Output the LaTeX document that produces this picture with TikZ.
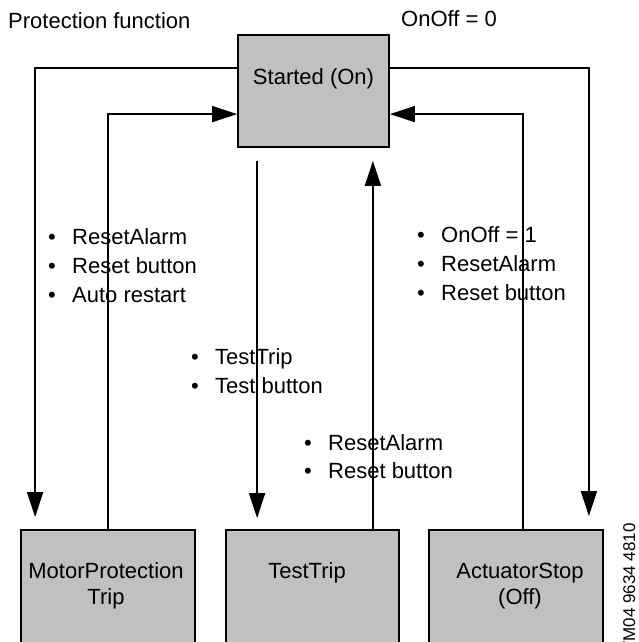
\documentclass[tikz,border=0pt]{standalone}
\usepackage{fontspec}
\setmainfont{Liberation Sans}
\usetikzlibrary{arrows.meta}
\definecolor{statefill}{RGB}{192,192,192}
% bullet followed by its text, bullet in a fixed-width box
\newcommand\mybul[1]{\makebox[24pt][l]{\textbullet}#1}
\begin{document}
\begin{tikzpicture}[x=1pt,y=-1pt,
  state/.style={draw=black,line width=1.8pt,fill=statefill,rectangle,inner sep=0pt},
  flow/.style={line width=1.8pt,-{Triangle[length=25pt,width=16pt]}},
  txt/.style={inner sep=0pt,font=\fontsize{22}{26}\selectfont},
  code/.style={inner sep=0pt,font=\fontsize{17}{20}\selectfont},
]
\useasboundingbox (0,0) rectangle (639,642);
\clip (0,0) rectangle (639,642);

% states
\node[state,minimum width=151pt,minimum height=112pt] (started) at (313.5,91) {};
\node[state,minimum width=174pt,minimum height=140pt] (motor) at (108,600) {};
\node[state,minimum width=173pt,minimum height=140pt] (test) at (312.5,600) {};
\node[state,minimum width=174pt,minimum height=140pt] (actuator) at (516,600) {};

% state names
\node[txt,anchor=base] (startedtxt) at (313.5,84) {Started (On)};
\node[txt,anchor=base] (motortxt) at (106,578) {MotorProtection};
\node[txt,anchor=base] (motortxtb) at (106,604) {Trip};
\node[txt,anchor=base] (testtxt) at (307,578) {TestTrip};
\node[txt,anchor=base] (actuatortxt) at (520,578) {ActuatorStop};
\node[txt,anchor=base] (actuatortxtb) at (520,604) {(Off)};

% connector end points on the state borders
\coordinate (sw1) at ([yshift=-34pt]started.north west);
\coordinate (sw2) at ([yshift=-80pt]started.north west);
\coordinate (se1) at ([yshift=-34pt]started.north east);
\coordinate (se2) at ([yshift=-80pt]started.north east);
\coordinate (sdown) at ([xshift=20pt]started.south west);
\coordinate (sup) at ([xshift=-17pt]started.south east);
\coordinate (mdown) at ([xshift=15pt]motor.north west);
\coordinate (adown) at ([xshift=-15pt]actuator.north east);
\coordinate (aup) at ([xshift=7pt]actuator.north);

% transitions
\draw[flow,shorten >=12pt] (sw1) -| (mdown);
\draw[flow] (motor.north) |- (sw2);
\draw[flow,shorten <=13pt,shorten >=11pt] (sdown) -- (sdown |- test.north);
\draw[flow,shorten >=13pt] (sup |- test.north) -- (sup);
\draw[flow,shorten >=13pt] (se1) -| (adown);
\draw[flow] (aup) |- (se2);

% headings
\node[txt,anchor=base west] (heading) at (8,29) {Protection function};
\node[txt,anchor=base west] (offcmd) at (401,27) {OnOff = 0};

% transition conditions
\node[txt,anchor=base west] (ca1) at (48,244) {\mybul{ResetAlarm}};
\node[txt,anchor=base west] (ca2) at (48,273) {\mybul{Reset button}};
\node[txt,anchor=base west] (ca3) at (48,302) {\mybul{Auto restart}};

\node[txt,anchor=base west] (cb1) at (191,364) {\mybul{TestTrip}};
\node[txt,anchor=base west] (cb2) at (191,393) {\mybul{Test button}};

\node[txt,anchor=base west] (cc1) at (304,450) {\mybul{ResetAlarm}};
\node[txt,anchor=base west] (cc2) at (304,478) {\mybul{Reset button}};

\node[txt,anchor=base west] (cd1) at (417,242) {\mybul{OnOff = 1}};
\node[txt,anchor=base west] (cd2) at (417,271) {\mybul{ResetAlarm}};
\node[txt,anchor=base west] (cd3) at (417,300) {\mybul{Reset button}};

% drawing number, running off the lower edge
\node[code,anchor=base east,rotate=90] (drawno) at (635,523) {TM04 9634 4810};
\end{tikzpicture}
\end{document}
